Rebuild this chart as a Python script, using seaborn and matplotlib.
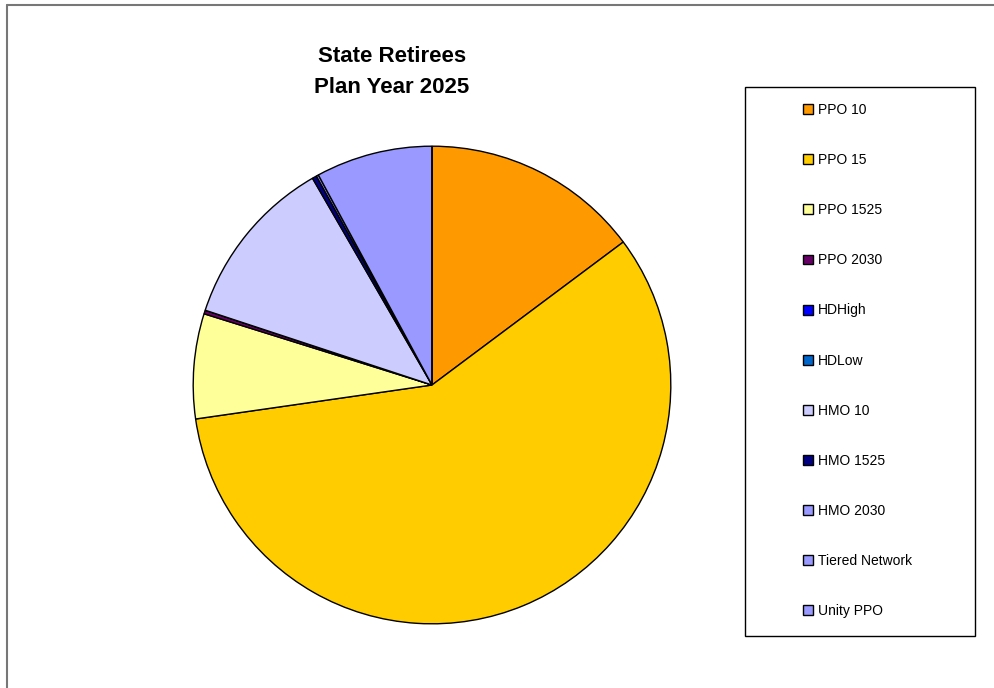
import numpy as np
import seaborn as sns
import matplotlib.pyplot as plt
from matplotlib.patches import Patch, Rectangle
from matplotlib.lines import Line2D

plans = ['PPO 10', 'PPO 15', 'PPO 1525', 'PPO 2030', 'HDHigh', 'HDLow',
         'HMO 10', 'HMO 1525', 'HMO 2030', 'Tiered Network', 'Unity PPO']
shares = [14.8, 58.0, 7.1, 0.25, 0.0, 0.0, 11.6, 0.3, 0.15, 7.9, 0.0]
colors = ['#FF9900', '#FFCC00', '#FFFF99', '#660066', '#0000FF', '#0066CC',
          '#CCCCFF', '#000080', '#9999FF', '#9999FF', '#9999FF']


def set_style():
    sns.set_style("white")
    plt.rcParams.update({
        'font.family': ['Liberation Sans', 'DejaVu Sans'],
        'text.color': 'black',
        'figure.dpi': 100,
        'savefig.dpi': 100,
    })


def main():
    set_style()
    fig = plt.figure(figsize=(9.95, 6.88))

    # outer chart-area border (top and left visible)
    fig.add_artist(Line2D([7 / 995, 1.0], [1 - 5 / 688, 1 - 5 / 688],
                          transform=fig.transFigure, color='#777777', lw=1.5))
    fig.add_artist(Line2D([7 / 995, 7 / 995], [0.0, 1 - 5 / 688],
                          transform=fig.transFigure, color='#777777', lw=1.5))

    ax = fig.add_axes([192 / 995, 1 - 625 / 688, 480 / 995, 480 / 688])
    ax.pie(shares, colors=colors, startangle=90, counterclock=False, radius=1.0,
           wedgeprops={'edgecolor': 'black', 'linewidth': 1.0})
    ax.set_xlim(-1.005, 1.005)
    ax.set_ylim(-1.005, 1.005)
    ax.set_aspect('equal')
    ax.axis('off')

    fig.text(392 / 995, 1 - 72 / 688, 'State Retirees\nPlan Year 2025',
             ha='center', va='center', fontsize=16, fontweight='bold',
             linespacing=1.65, color='black')

    # legend frame
    fig.add_artist(Rectangle((745 / 995, 1 - 636 / 688), 230 / 995, 549 / 688,
                             transform=fig.transFigure, fill=False,
                             edgecolor='black', lw=1.0))
    handles = [Patch(facecolor=c, edgecolor='black', lw=1.0) for c in colors]
    leg = fig.legend(handles, plans, loc='upper left',
                     bbox_to_anchor=(803 / 995, 1 - 103 / 688),
                     frameon=False, fontsize=10, handlelength=0.72, handleheight=0.72,
                     handletextpad=0.35, labelspacing=2.6, borderpad=0, borderaxespad=0)
    for t in leg.get_texts():
        t.set_color('black')

    plt.savefig('out.png', dpi=100)


if __name__ == "__main__":
    main()
